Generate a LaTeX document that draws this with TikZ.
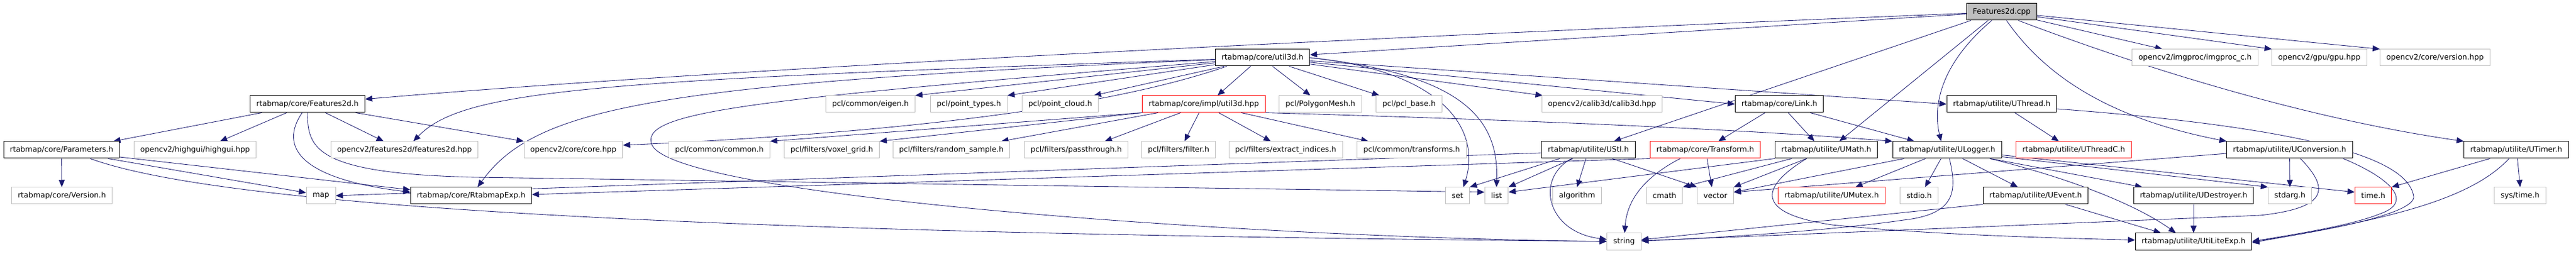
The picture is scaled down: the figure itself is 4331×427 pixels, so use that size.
\documentclass[tikz,border=0pt]{standalone}
\usepackage{fontspec}
\setmainfont{DejaVu Sans}
\usetikzlibrary{arrows.meta}
\definecolor{grey75}{RGB}{191,191,191}
\definecolor{edgeblue}{RGB}{25,25,112}
\pgfdeclarelayer{edges}
\pgfsetlayers{edges,main}

\begin{document}
\begin{tikzpicture}[x=1pt,y=-1pt,
            font=\fontsize{12.6}{15}\selectfont,
            box/.style={draw, line width=1pt, minimum height=28pt, inner xsep=10.5pt, inner ysep=0pt, fill=white},
            doc/.style={box, draw=black},
            ext/.style={box, draw=grey75},
            trunc/.style={box, draw=red},
            root/.style={box, draw=black, fill=grey75},
            incl/.style={draw=edgeblue, line width=0.85pt, -{Triangle[length=12pt,width=10pt]}}]
            \node[root] (cpp) at (3365.5,20) {Features2d.cpp};

            \node[doc] (util3d) at (2122.5,97) {rtabmap/core/util3d.h};
            \node[ext] (imgproc) at (3690.5,97) {opencv2/imgproc/imgproc\_c.h};
            \node[ext] (gpu) at (3899.5,97) {opencv2/gpu/gpu.hpp};
            \node[ext] (cvversion) at (4094,97) {opencv2/core/version.hpp};

            \node[doc] (feat2dh) at (517,175) {rtabmap/core/Features2d.h};
            \node[ext] (eigen) at (1463.5,175) {pcl/common/eigen.h};
            \node[ext] (pointtypes) at (1629,175) {pcl/point\_types.h};
            \node[ext] (pointcloud) at (1782.5,175) {pcl/point\_cloud.h};
            \node[trunc] (util3dhpp) at (2024,175) {rtabmap/core/impl/util3d.hpp};
            \node[ext] (polymesh) at (2220,175) {pcl/PolygonMesh.h};
            \node[ext] (pclbase) at (2369,175) {pcl/pcl\_base.h};
            \node[ext] (calib) at (2693.5,175) {opencv2/calib3d/calib3d.hpp};
            \node[doc] (link) at (2991.5,175) {rtabmap/core/Link.h};
            \node[doc] (uthread) at (3365.5,175) {rtabmap/utilite/UThread.h};

            \node[doc] (params) at (103.5,252) {rtabmap/core/Parameters.h};
            \node[ext] (highgui) at (328,252) {opencv2/highgui/highgui.hpp};
            \node[ext] (features2dhpp) at (680,252) {opencv2/features2d/features2d.hpp};
            \node[ext] (corehpp) at (964,252) {opencv2/core/core.hpp};
            \node[ext] (common) at (1209.5,252) {pcl/common/common.h};
            \node[ext] (voxel) at (1398.5,252) {pcl/filters/voxel\_grid.h};
            \node[ext] (randsample) at (1599.5,252) {pcl/filters/random\_sample.h};
            \node[ext] (passthrough) at (1809.5,252) {pcl/filters/passthrough.h};
            \node[ext] (filter) at (1981.5,252) {pcl/filters/filter.h};
            \node[ext] (extract) at (2161.5,252) {pcl/filters/extract\_indices.h};
            \node[ext] (transforms) at (2373.5,252) {pcl/common/transforms.h};
            \node[doc] (ustl) at (2670.5,252) {rtabmap/utilite/UStl.h};
            \node[trunc] (transform) at (2867,252) {rtabmap/core/Transform.h};
            \node[doc] (umath) at (3070.5,252) {rtabmap/utilite/UMath.h};
            \node[doc] (ulogger) at (3273.5,252) {rtabmap/utilite/ULogger.h};
            \node[trunc] (uthreadc) at (3486.5,252) {rtabmap/utilite/UThreadC.h};
            \node[doc] (uconversion) at (3849.5,252) {rtabmap/utilite/UConversion.h};
            \node[doc] (utimer) at (4230.5,252) {rtabmap/utilite/UTimer.h};

            \node[ext] (version) at (104,329) {rtabmap/core/Version.h};
            \node[ext] (map) at (539.5,329) {map};
            \node[doc] (rtabmapexp) at (792,329) {rtabmap/core/RtabmapExp.h};
            \node[ext] (set) at (2450.5,329) {set};
            \node[ext] (list) at (2516,329) {list};
            \node[ext] (algorithm) at (2651.5,329) {algorithm};
            \node[ext] (cmath) at (2798.5,329) {cmath};
            \node[ext] (vector) at (2884,329) {vector};
            \node[trunc] (umutex) at (3079.5,329) {rtabmap/utilite/UMutex.h};
            \node[ext] (stdio) at (3226.5,329) {stdio.h};
            \node[doc] (uevent) at (3422.5,329) {rtabmap/utilite/UEvent.h};
            \node[doc] (udestroyer) at (3688,329) {rtabmap/utilite/UDestroyer.h};
            \node[ext] (stdarg) at (3850,329) {stdarg.h};
            \node[trunc] (timeh) at (3990,329) {time.h};
            \node[ext] (systime) at (4237,329) {sys/time.h};

            \node[ext] (string) at (2730.5,406) {string};
            \node[doc] (utiliteexp) at (3688,406) {rtabmap/utilite/UtiLiteExp.h};

            \begin{pgfonlayer}{edges}
            \path[use as bounding box, fill=white] (0,0) rectangle (4331,427);

            \draw[incl] (cpp) .. controls (2000,75) and (1100,125) .. (feat2dh);
            \draw[incl] (cpp) -- (util3d);
            \draw[incl] ([xshift=-52pt]cpp.south) -- (ustl);
            \draw[incl] ([xshift=-23pt]cpp.south) -- ([xshift=22pt]umath.north);
            \draw[incl] ([xshift=-17pt]cpp.south) .. controls (3260,110) and (3250,180) .. ([xshift=-10pt]ulogger.north);
            \draw[incl] ([xshift=8pt]cpp.south) .. controls (3440,130) and (3550,200) .. (uconversion.north west);
            \draw[incl] ([xshift=28pt]cpp.south) .. controls (3700,150) and (3950,210) .. (utimer.north west);
            \draw[incl] (cpp) -- ([xshift=-55pt]imgproc.north);
            \draw[incl] (cpp) -- (gpu.north west);
            \draw[incl] (cpp) -- (cvversion.north west);

            \draw[incl] ([xshift=-20pt]util3d.south) -- ([xshift=23pt]util3dhpp.north);
            \draw[incl] ([xshift=17pt]util3d.south) -- ([xshift=-17pt]polymesh.north);
            \draw[incl] ([xshift=45pt]util3d.south) -- ([xshift=-50pt]pclbase.north);
            \draw[incl] (util3d) -- ([xshift=-100pt]calib.north);
            \draw[incl] (util3d) -- (link.west);
            \draw[incl] (util3d) -- (uthread.west);
            \draw[incl] (util3d.east) .. controls (2430,120) and (2490,220) .. ([xshift=10pt]set.north);
            \draw[incl] (util3d.east) .. controls (2460,125) and (2520,200) .. (list.north);
            \draw[incl] (util3d) -- (eigen.north east);
            \draw[incl] (util3d) -- (pointtypes.north east);
            \draw[incl] (util3d) -- ([xshift=-8pt]pointcloud.north east);
            \draw[incl] (util3d) .. controls (1000,135) and (780,150) .. ([xshift=15pt]features2dhpp.north);
            \draw[incl] (util3d) .. controls (1100,140) and (900,180) .. ([xshift=11pt]rtabmapexp.north);
            \draw[incl] ([xshift=-60pt]util3d.south) .. controls (1950,150) and (1700,215) .. ([yshift=8pt]corehpp.east);
            \draw[incl] (util3d) .. controls (1300,165) and (1080,185) .. (1095,240) .. controls (1110,330) and (2100,400) .. (string);

            \draw[incl] ([xshift=-8pt]util3dhpp.south) -- ([xshift=10pt]filter.north);
            \draw[incl] ([xshift=25pt]util3dhpp.south) -- ([xshift=-25pt]extract.north);
            \draw[incl] ([xshift=63pt]util3dhpp.south) -- ([xshift=-73pt]transforms.north);
            \draw[incl] ([xshift=-39pt]util3dhpp.south) -- ([xshift=48pt]passthrough.north);
            \draw[incl] ([xshift=-77pt]util3dhpp.south) -- ([xshift=84pt]randsample.north);
            \draw[incl] (util3dhpp.south west) -- (voxel.north east);
            \draw[incl] (util3dhpp.south west) -- (common.north east);
            \draw[incl] (util3dhpp.south east) .. controls (2500,200) and (2900,215) .. (ulogger.north west);

            \draw[incl] ([xshift=-77pt]feat2dh.south) -- ([xshift=87pt]params.north);
            \draw[incl] ([xshift=-35pt]feat2dh.south) -- ([xshift=42pt]highgui.north);
            \draw[incl] ([xshift=30pt]feat2dh.south) -- ([xshift=-35pt]features2dhpp.north);
            \draw[incl] ([xshift=81pt]feat2dh.south) -- (corehpp.north west);
            \draw[incl] ([xshift=-9pt]feat2dh.south) .. controls (470,245) and (500,300) .. ([yshift=6pt]rtabmapexp.west);
            \draw[incl] (feat2dh.south) .. controls (517,250) and (530,292) .. (800,298) -- ([yshift=6pt]list.west);

            \draw[incl] (params) -- (version);
            \draw[incl] ([yshift=-12pt]params.east) -- ([yshift=10pt]rtabmapexp.west);
            \draw[incl] ([xshift=78pt]params.south) -- ([yshift=5pt]map.west);
            \draw[incl] ([xshift=48pt]params.south) .. controls (420,365) and (1500,395) .. (string);

            \draw[incl] ([xshift=-24pt]link.south) -- ([xshift=22pt]transform.north);
            \draw[incl] ([xshift=15pt]link.south) -- ([xshift=-20pt]umath.north);
            \draw[incl] ([xshift=52pt]link.south) -- ([xshift=-55pt]ulogger.north);

            \draw[incl] ([xshift=22pt]uthread.south) -- ([xshift=-25pt]uthreadc.north);
            \draw[incl] ([yshift=-8pt]uthread.east) .. controls (3950,220) and (4050,280) .. (4058,330) .. controls (4062,360) and (3900,390) .. (utiliteexp.east);

            \draw[incl] ([yshift=-5pt]ustl.west) -- (map.east);
            \draw[incl] ([xshift=-48pt]ustl.south) -- (set.north east);
            \draw[incl] ([xshift=-26pt]ustl.south) -- (list.north east);
            \draw[incl] ([xshift=-4pt]ustl.south) -- (algorithm.north);
            \draw[incl] ([xshift=40pt]ustl.south) -- (vector.north west);
            \draw[incl] ([xshift=-28pt]ustl.south) .. controls (2580,300) and (2600,390) .. (string);

            \draw[incl] (transform.south west) -- ([yshift=2pt]rtabmapexp.east);
            \draw[incl] ([xshift=3pt]transform.south) -- ([xshift=-6pt]vector.north);
            \draw[incl] ([xshift=-42pt]transform.south) .. controls (2760,300) and (2735,340) .. (string);

            \draw[incl] (umath.south west) -- ([yshift=6pt]list.east);
            \draw[incl] ([xshift=-58pt]umath.south) -- (cmath.north east);
            \draw[incl] ([xshift=-33pt]umath.south) -- (vector.north east);
            \draw[incl] ([xshift=-33pt]umath.south) .. controls (2950,320) and (2960,360) .. (3080,378) .. controls (3250,395) and (3450,400) .. (utiliteexp);

            \draw[incl] ([xshift=-36pt]ulogger.south) -- ([xshift=40pt]umutex.north);
            \draw[incl] ([xshift=-10pt]ulogger.south) -- ([xshift=10pt]stdio.north);
            \draw[incl] ([xshift=4pt]ulogger.south) .. controls (3290,320) and (3290,360) .. (3200,370) .. controls (3100,385) and (2900,400) .. (string);
            \draw[incl] ([xshift=26pt]ulogger.south) -- ([xshift=-30pt]uevent.north);
            \draw[incl] ([xshift=20pt]ulogger.south west) -- ([yshift=6pt]vector.east);
            \draw[incl] ([xshift=-20pt]ulogger.south east) -- ([xshift=15pt]udestroyer.north west);
            \draw[incl] ([yshift=3pt]ulogger.south east) -- (stdarg.north west);
            \draw[incl] ([yshift=6pt]ulogger.south east) -- ([yshift=6pt]timeh.west);
            \draw[incl] ([xshift=-20pt]ulogger.south east) .. controls (3500,305) and (3600,350) .. ([xshift=-30pt]utiliteexp.north);

            \draw[incl] (uconversion) -- (stdarg);
            \draw[incl] ([yshift=-6pt]uconversion.west) -- ([yshift=6pt]vector.east);
            \draw[incl] ([xshift=18pt]uconversion.south) .. controls (3920,320) and (3910,350) .. (3800,362) -- (string);
            \draw[incl] ([xshift=90pt]uconversion.south) .. controls (4020,300) and (4060,340) .. (4000,360) .. controls (3950,380) and (3850,395) .. (utiliteexp.east);

            \draw[incl] ([xshift=-44pt]utimer.south) -- (timeh.north east);
            \draw[incl] ([xshift=2pt]utimer.south) -- (systime.north);
            \draw[incl] ([xshift=-12pt]utimer.south) .. controls (4150,340) and (4000,370) .. ([yshift=-2pt]utiliteexp.east);

            \draw[incl] (uevent.south west) -- (string);
            \draw[incl] ([xshift=50pt]uevent.south) -- ([xshift=-55pt]utiliteexp.north);

            \draw[incl] (udestroyer) -- (utiliteexp);
            \end{pgfonlayer}
\end{tikzpicture}
\end{document}
